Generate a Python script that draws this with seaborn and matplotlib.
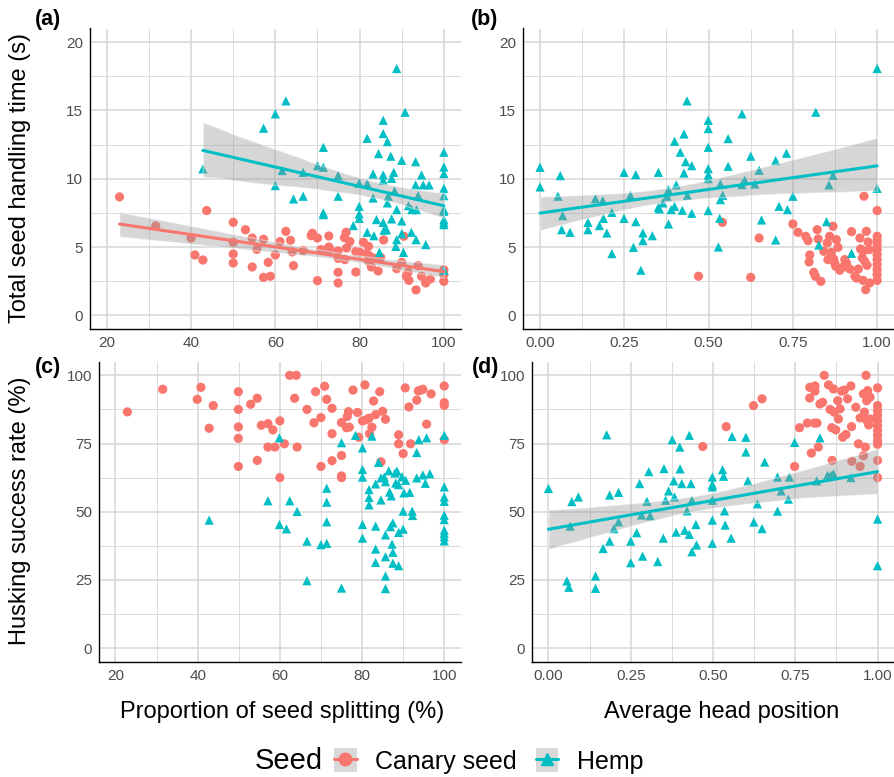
import numpy as np
import pandas as pd
import matplotlib
matplotlib.use("Agg")
import matplotlib.pyplot as plt
from matplotlib.lines import Line2D
from matplotlib.patches import Patch
from matplotlib.ticker import MultipleLocator
import seaborn as sns

sns.set_style("white")
plt.rcParams['font.family'] = ['Liberation Sans', 'DejaVu Sans']
plt.rcParams['text.color'] = 'black'

series_names = ["Canary seed", "Hemp"]
colors = {"Canary seed": "#F8766D", "Hemp": "#00BFC4"}
markers = {"Canary seed": "o", "Hemp": "^"}

# ---------------- panel (a): splitting (%) vs handling time (s)
a_canary_x = [23.0, 31.6, 40.0, 43.7, 40.9, 42.8, 50.0, 50.0, 50.0, 50.0, 52.9, 54.5, 54.5, 55.6, 57.2, 57.2,
              58.3, 58.8, 60.0, 61.1, 62.5, 63.6, 64.0, 64.3, 66.6, 68.5, 68.8, 70.0, 70.0, 70.8, 72.7, 72.7,
              74.9, 74.9, 74.9, 74.9, 76.4, 76.8, 76.9, 77.7, 76.5, 79.1, 79.1, 80.1, 80.9, 81.7, 82.1, 82.1,
              82.8, 83.5, 84.4, 85.0, 85.7, 88.8, 90.0, 90.5, 91.1, 91.5, 91.7, 93.4, 93.9, 94.7, 95.7, 96.8,
              100, 100, 100, 82.5, 71.4, 73.0]
a_canary_y = [8.67, 6.54, 5.66, 7.67, 4.42, 4.05, 6.81, 5.35, 4.49, 3.83, 6.27, 5.66, 3.54, 4.83, 5.57, 2.78,
              3.88, 2.86, 4.42, 5.40, 6.15, 5.49, 4.64, 3.64, 4.74, 5.83, 6.01, 5.66, 2.54, 4.81, 5.81, 5.00,
              4.71, 4.17, 3.15, 2.37, 5.69, 6.08, 4.93, 5.40, 4.08, 4.66, 3.17, 4.61, 5.35, 4.52, 5.05, 3.96,
              3.54, 4.17, 3.25, 4.25, 5.52, 3.42, 3.88, 5.79, 2.86, 3.15, 2.56, 1.86, 3.64, 2.86, 2.37, 2.66,
              2.98, 2.49, 3.34, 4.32, 4.76, 4.81]
a_hemp_x = [42.8, 57.2, 60.0, 62.5, 60.0, 61.6, 64.3, 66.6, 66.6, 70.0, 71.4, 71.4, 71.4, 71.4, 74.9, 74.9,
            78.5, 79.9, 79.9, 79.9, 79.9, 81.8, 81.8, 81.8, 83.2, 83.2, 83.4, 84.0, 84.5, 84.7, 85.6, 85.6,
            85.6, 85.6, 85.6, 85.8, 86.4, 86.6, 86.6, 86.8, 87.4, 87.6, 87.6, 88.1, 88.3, 88.8, 88.8, 88.8,
            88.6, 90.0, 90.0, 90.0, 90.4, 90.8, 91.6, 92.3, 92.4, 93.3, 93.3, 93.4, 93.5, 93.9, 94.7, 95.1,
            95.7, 96.5, 100, 100, 100, 100, 100, 100, 100, 100, 100, 100, 100]
a_hemp_y = [10.72, 13.70, 14.75, 15.70, 9.50, 10.60, 8.52, 10.47, 8.72, 10.96, 12.30, 10.84, 7.50, 7.37, 10.23, 8.72,
            6.57, 9.67, 7.98, 7.42, 7.10, 12.96, 9.64, 6.08, 10.35, 8.59, 5.83, 7.01, 11.84, 4.61, 14.28, 13.31,
            10.28, 9.89, 6.81, 6.23, 6.27, 12.72, 8.23, 8.72, 11.65, 7.06, 10.03, 10.47, 9.11, 18.07, 7.74, 5.54,
            5.05, 11.35, 6.91, 5.98, 4.61, 14.87, 8.03, 6.08, 7.74, 11.25, 9.55, 5.54, 7.74, 8.76, 10.28, 9.55,
            5.18, 9.55, 11.94, 10.86, 10.38, 9.30, 8.76, 7.74, 7.62, 7.01, 6.81, 6.64, 3.30]

# ---------------- panel (b): head position vs handling time (s)
b_canary_x = [0.470, 0.541, 0.625, 0.650, 0.750, 0.765, 0.788, 0.795, 0.822, 0.825, 0.800, 0.798, 0.812, 0.817,
              0.833, 0.842, 0.852, 0.854, 0.859, 0.864, 0.869, 0.871, 0.879, 0.884, 0.877, 0.889, 0.899, 0.909,
              0.919, 0.924, 0.934, 0.944, 0.949, 0.951, 0.956, 0.958, 0.961, 0.966, 0.968, 0.970, 0.973, 0.976,
              0.978, 1.0, 1.0, 1.0, 1.0, 1.0, 1.0, 1.0, 1.0, 1.0, 1.0, 1.0, 0.958, 0.963, 0.939, 0.904, 0.874]
b_canary_y = [2.86, 6.81, 2.78, 5.66, 6.69, 6.08, 5.79, 5.47, 6.27, 5.59, 4.42, 3.91, 3.15, 2.86,
              2.49, 4.69, 5.30, 4.08, 5.79, 4.61, 6.52, 4.13, 5.54, 4.98, 3.59, 3.30, 3.54, 3.83,
              3.39, 6.13, 2.86, 3.39, 5.66, 4.86, 4.20, 2.56, 8.72, 1.88, 6.15, 3.66, 5.37, 4.81,
              2.37, 7.67, 5.79, 5.49, 5.18, 4.81, 4.44, 4.08, 3.71, 3.34, 2.98, 2.56, 4.69, 3.96, 2.73, 4.08, 3.83]
b_hemp_x = [0.000, 0.000, 0.053, 0.060, 0.067, 0.064, 0.089, 0.142, 0.142, 0.164, 0.176, 0.186, 0.188, 0.198,
            0.213, 0.213, 0.249, 0.249, 0.268, 0.277, 0.284, 0.284, 0.299, 0.305, 0.305, 0.333, 0.351, 0.351,
            0.354, 0.364, 0.377, 0.381, 0.381, 0.389, 0.399, 0.404, 0.399, 0.416, 0.422, 0.427, 0.432, 0.427,
            0.436, 0.437, 0.450, 0.450, 0.499, 0.499, 0.499, 0.499, 0.499, 0.499, 0.499, 0.529, 0.533, 0.535,
            0.535, 0.542, 0.558, 0.558, 0.599, 0.599, 0.607, 0.625, 0.637, 0.650, 0.657, 0.699, 0.699, 0.709,
            0.731, 0.734, 0.750, 0.818, 0.827, 0.850, 0.857, 0.869, 0.924, 1.000, 1.000]
b_hemp_y = [10.84, 9.40, 8.72, 10.23, 7.30, 6.27, 6.08, 6.81, 6.27, 8.54, 6.57, 8.40, 7.10, 6.03,
            7.54, 4.52, 10.47, 7.10, 8.79, 4.98, 10.30, 6.86, 3.30, 6.03, 5.47, 5.83, 10.47, 7.91,
            7.79, 8.23, 8.72, 6.69, 9.20, 7.74, 7.98, 9.55, 12.74, 11.94, 7.69, 13.28, 11.25, 10.42,
            15.70, 8.79, 10.96, 7.47, 14.28, 13.67, 12.30, 10.74, 10.28, 10.01, 7.67, 5.00, 7.10, 9.62,
            8.47, 8.79, 10.91, 12.94, 14.75, 9.57, 9.89, 11.65, 9.62, 10.62, 6.98, 11.33, 5.52, 7.98,
            11.87, 7.74, 8.72, 14.87, 5.15, 6.86, 9.55, 10.25, 4.54, 18.07, 9.30]

# ---------------- panel (c): splitting (%) vs husking success (%)
c_canary_x = [22.9, 31.5, 40.8, 39.9, 42.8, 43.8, 49.9, 49.9, 49.9, 49.9, 49.9, 52.9, 54.5, 54.5, 55.5, 57.1,
              57.1, 58.3, 58.8, 60.0, 60.0, 61.1, 62.4, 64.0, 63.6, 64.2, 66.6, 68.3, 68.7, 70.0, 70.0, 70.9,
              71.4, 72.7, 72.7, 72.7, 75.0, 75.0, 75.0, 75.0, 76.4, 76.7, 76.9, 76.2, 77.8, 78.9, 79.2, 80.1,
              80.7, 81.0, 81.7, 81.8, 82.4, 82.8, 83.3, 84.3, 85.0, 84.6, 85.7, 88.9, 88.9, 90.0, 90.5, 91.4,
              91.8, 93.3, 93.7, 94.3, 94.8, 95.7, 96.8, 100, 100, 100, 100]
c_canary_y = [86.6, 94.9, 95.6, 91.2, 80.6, 88.9, 94.0, 87.5, 81.1, 76.9, 66.6, 89.4, 68.8, 91.6, 81.7, 73.7,
              82.3, 80.0, 73.7, 83.3, 62.5, 74.9, 100.0, 100.0, 91.6, 73.7, 87.5, 82.6, 94.0, 84.5, 66.6, 96.0,
              91.2, 87.9, 78.6, 68.7, 82.7, 70.6, 63.1, 62.5, 84.9, 86.7, 81.0, 80.8, 94.6, 86.4, 77.3, 83.3,
              96.5, 83.7, 84.3, 78.6, 81.0, 90.6, 85.6, 94.0, 86.8, 68.3, 83.9, 78.2, 74.9, 71.3, 95.4, 88.4,
              74.9, 90.9, 94.3, 94.6, 94.9, 82.1, 93.2, 96.1, 90.0, 89.0, 76.4]
c_hemp_x = [42.8, 57.1, 59.9, 59.9, 61.6, 62.4, 64.2, 66.6, 66.6, 70.0, 71.4, 71.4, 71.4, 71.4, 75.0, 75.0,
            78.4, 80.1, 80.1, 80.1, 80.1, 80.1, 81.7, 81.7, 81.7, 82.4, 83.3, 83.3, 83.3, 83.3, 84.0, 84.6,
            84.6, 85.4, 85.7, 85.7, 85.7, 85.7, 85.7, 86.5, 86.7, 87.1, 86.9, 87.3, 87.5, 87.5, 87.5, 88.0,
            88.2, 88.5, 88.9, 88.9, 88.9, 89.7, 90.0, 90.0, 90.2, 90.6, 91.6, 92.2, 92.3, 93.3, 93.3, 93.8,
            94.8, 95.4, 95.7, 96.5, 100, 100, 100, 100, 100, 100, 100, 100, 100, 100]
c_hemp_y = [46.9, 54.0, 77.1, 45.3, 43.7, 54.0, 50.1, 39.2, 24.7, 37.9, 58.6, 53.5, 46.3, 38.4, 75.3, 22.0,
            78.0, 73.4, 65.5, 62.7, 45.3, 40.3, 58.1, 55.2, 52.5, 77.7, 60.2, 44.7, 36.3, 31.4, 68.1, 62.4,
            54.3, 62.7, 61.0, 41.5, 33.5, 26.4, 21.8, 65.0, 57.2, 55.8, 44.5, 38.1, 45.9, 35.1, 31.1, 64.2,
            60.5, 64.9, 59.9, 42.4, 30.2, 62.8, 50.2, 43.6, 56.9, 61.5, 57.1, 50.2, 48.6, 71.7, 62.4, 76.4,
            63.5, 60.4, 77.1, 63.9, 78.0, 59.1, 55.4, 53.8, 48.7, 47.1, 43.2, 42.0, 40.8, 39.3]

# ---------------- panel (d): head position vs husking success (%)
d_canary_x = [0.469, 0.540, 0.623, 0.649, 0.748, 0.763, 0.787, 0.799, 0.794, 0.794, 0.810, 0.810, 0.808, 0.816,
              0.820, 0.825, 0.833, 0.838, 0.851, 0.856, 0.861, 0.862, 0.866, 0.868, 0.873, 0.879, 0.881, 0.886,
              0.891, 0.894, 0.899, 0.904, 0.909, 0.919, 0.921, 0.922, 0.934, 0.942, 0.947, 0.947, 0.957, 0.957,
              0.960, 0.963, 0.965, 0.967, 0.968, 0.970, 0.973, 0.977, 0.977, 1.0, 1.0, 1.0, 1.0, 1.0, 1.0, 1.0,
              1.0, 1.0, 1.0, 1.0, 1.0]
d_canary_y = [73.9, 81.2, 88.9, 91.4, 66.6, 80.8, 82.5, 71.5, 95.6, 91.7, 96.1, 94.2, 82.5, 82.5,
              73.7, 89.5, 90.1, 100.0, 96.5, 87.5, 80.8, 68.8, 95.0, 86.5, 80.0, 90.7, 84.0, 87.7,
              94.2, 77.3, 94.6, 78.3, 91.4, 96.1, 81.2, 68.5, 88.3, 74.9, 66.6, 84.4, 70.5, 93.2,
              86.5, 73.7, 100.0, 90.7, 83.4, 94.4, 81.8, 92.0, 84.0, 95.4, 88.9, 87.1, 85.3, 83.4, 81.6, 79.8,
              78.0, 76.1, 74.7, 68.8, 62.5]
d_hemp_x = [0.000, 0.056, 0.062, 0.066, 0.071, 0.091, 0.143, 0.143, 0.166, 0.177, 0.186, 0.186, 0.199, 0.213,
            0.213, 0.250, 0.250, 0.268, 0.277, 0.283, 0.286, 0.299, 0.305, 0.309, 0.332, 0.349, 0.351, 0.356,
            0.365, 0.376, 0.381, 0.383, 0.388, 0.399, 0.400, 0.405, 0.414, 0.421, 0.428, 0.428, 0.433, 0.436,
            0.436, 0.448, 0.450, 0.498, 0.498, 0.498, 0.498, 0.498, 0.498, 0.529, 0.532, 0.535, 0.537, 0.555,
            0.558, 0.600, 0.600, 0.606, 0.624, 0.635, 0.649, 0.657, 0.696, 0.696, 0.707, 0.729, 0.732, 0.748,
            0.815, 0.825, 0.848, 0.858, 0.866, 0.919, 1.000, 1.000]
d_hemp_y = [58.5, 24.6, 22.3, 44.7, 53.7, 55.4, 26.4, 21.9, 36.5, 78.2, 39.2, 56.1, 43.8, 57.1,
            46.3, 39.2, 31.3, 42.3, 60.3, 48.8, 33.7, 53.8, 64.7, 48.5, 31.7, 40.3, 65.8, 54.2,
            57.6, 76.4, 61.3, 55.4, 42.5, 73.7, 65.7, 60.3, 43.2, 50.3, 78.0, 41.7, 60.3, 54.2,
            35.3, 45.3, 37.8, 62.7, 60.0, 59.1, 54.2, 46.9, 38.4, 65.4, 63.0, 50.3, 45.1, 40.3,
            77.6, 77.3, 71.9, 61.3, 46.2, 52.9, 43.8, 68.2, 62.7, 50.2, 57.6, 54.6, 62.7, 75.4,
            61.3, 77.1, 63.3, 63.3, 63.9, 62.5, 47.3, 30.2]

W, H = 894, 777
fig = plt.figure(figsize=(W / 100, H / 100), dpi=100)


def rect(x0, y0, x1, y1):
    return [x0 / W, 1 - y1 / H, (x1 - x0) / W, (y1 - y0) / H]


def make_df(cx, cy, hx, hy):
    return pd.DataFrame({
        "x": list(cx) + list(hx),
        "y": list(cy) + list(hy),
        "Seed": ["Canary seed"] * len(cx) + ["Hemp"] * len(hx),
    })


def style_axis(ax, xlim, ylim, xmaj, xmin, ymaj, ymin, xfmt=None):
    ax.set_xlim(*xlim)
    ax.set_ylim(*ylim)
    ax.xaxis.set_major_locator(MultipleLocator(xmaj))
    ax.xaxis.set_minor_locator(MultipleLocator(xmin))
    ax.yaxis.set_major_locator(MultipleLocator(ymaj))
    ax.yaxis.set_minor_locator(MultipleLocator(ymin))
    ax.grid(which="major", color="#d6d6d6", lw=1.1, zorder=0)
    ax.grid(which="minor", color="#d6d6d6", lw=0.6, zorder=0)
    ax.set_axisbelow(True)
    for s in ["top", "right"]:
        ax.spines[s].set_visible(False)
    for s in ["left", "bottom"]:
        ax.spines[s].set_color("black")
        ax.spines[s].set_linewidth(1.0)
    ax.tick_params(which="major", length=3, width=0.8, color="#333333",
                   labelsize=11, labelcolor="#4d4d4d", pad=2)
    ax.tick_params(which="minor", length=0)
    ax.set_xlabel("")
    ax.set_ylabel("")
    if xfmt:
        ax.xaxis.set_major_formatter(plt.FuncFormatter(xfmt))


def scatter(ax, df):
    sns.scatterplot(data=df, x="x", y="y", hue="Seed", style="Seed",
                    palette=colors, markers=markers, hue_order=series_names,
                    style_order=series_names, s=44, linewidth=0, legend=False,
                    ax=ax, zorder=3)


def fit(ax, xs, ys, color):
    n_before = len(ax.collections)
    sns.regplot(x=np.array(xs), y=np.array(ys), scatter=False, color=color, ci=95,
                n_boot=1000, seed=3, ax=ax, line_kws={"lw": 2.2, "zorder": 5})
    for coll in ax.collections[n_before:]:
        coll.set_facecolor("#999999")
        coll.set_alpha(0.4)
        coll.set_zorder(4)


head_fmt = lambda v, p: f"{v:.2f}"

# (a)
ax_a = fig.add_axes(rect(90, 28.5, 460.7, 329))
scatter(ax_a, make_df(a_canary_x, a_canary_y, a_hemp_x, a_hemp_y))
fit(ax_a, a_canary_x, a_canary_y, colors["Canary seed"])
fit(ax_a, a_hemp_x, a_hemp_y, colors["Hemp"])
style_axis(ax_a, (16, 104), (-1, 21), 20, 10, 5, 2.5)

# (b)
ax_b = fig.add_axes(rect(523.2, 28.5, 894, 329))
scatter(ax_b, make_df(b_canary_x, b_canary_y, b_hemp_x, b_hemp_y))
fit(ax_b, b_hemp_x, b_hemp_y, colors["Hemp"])
style_axis(ax_b, (-0.05, 1.05), (-1, 21), 0.25, 0.125, 5, 2.5, head_fmt)

# (c)
ax_c = fig.add_axes(rect(99, 361.7, 460.7, 661.7))
scatter(ax_c, make_df(c_canary_x, c_canary_y, c_hemp_x, c_hemp_y))
style_axis(ax_c, (16, 104), (-5, 105), 20, 10, 25, 12.5)

# (d)
ax_d = fig.add_axes(rect(532, 361.7, 894, 661.7))
scatter(ax_d, make_df(d_canary_x, d_canary_y, d_hemp_x, d_hemp_y))
fit(ax_d, d_hemp_x, d_hemp_y, colors["Hemp"])
style_axis(ax_d, (-0.05, 1.05), (-5, 105), 0.25, 0.125, 25, 12.5, head_fmt)

# panel tags
for tag, x, y in [("(a)", 35, 19), ("(b)", 471, 19), ("(c)", 35, 367), ("(d)", 472, 367)]:
    fig.text(x / W, 1 - y / H, tag, fontsize=15.5, fontweight="bold", ha="left", va="center")

# axis titles
fig.text(20 / W, 1 - 178 / H, "Total seed handling time (s)", rotation=90,
         fontsize=17, ha="center", va="center")
fig.text(20 / W, 1 - 511 / H, "Husking success rate (%)", rotation=90,
         fontsize=17, ha="center", va="center")
fig.text(282 / W, 1 - 712 / H, "Proportion of seed splitting (%)",
         fontsize=17, ha="center", va="center")
fig.text(722 / W, 1 - 712 / H, "Average head position",
         fontsize=17, ha="center", va="center")

# legend
fig.text(289 / W, 1 - 761 / H, "Seed", fontsize=21, ha="center", va="center")
handles = [
    (Patch(facecolor="#d9d9d9", edgecolor="none"),
     Line2D([], [], color=colors[n], marker=markers[n], markersize=9, lw=2.2))
    for n in series_names
]
fig.legend(handles, series_names, loc="center left", ncol=2,
           bbox_to_anchor=(334 / W, 1 - 761 / H), frameon=False, fontsize=18,
           handlelength=0.9, handleheight=1.1, handletextpad=0.75, columnspacing=0.75,
           borderaxespad=0, borderpad=0)

fig.savefig("out.png", dpi=100)
